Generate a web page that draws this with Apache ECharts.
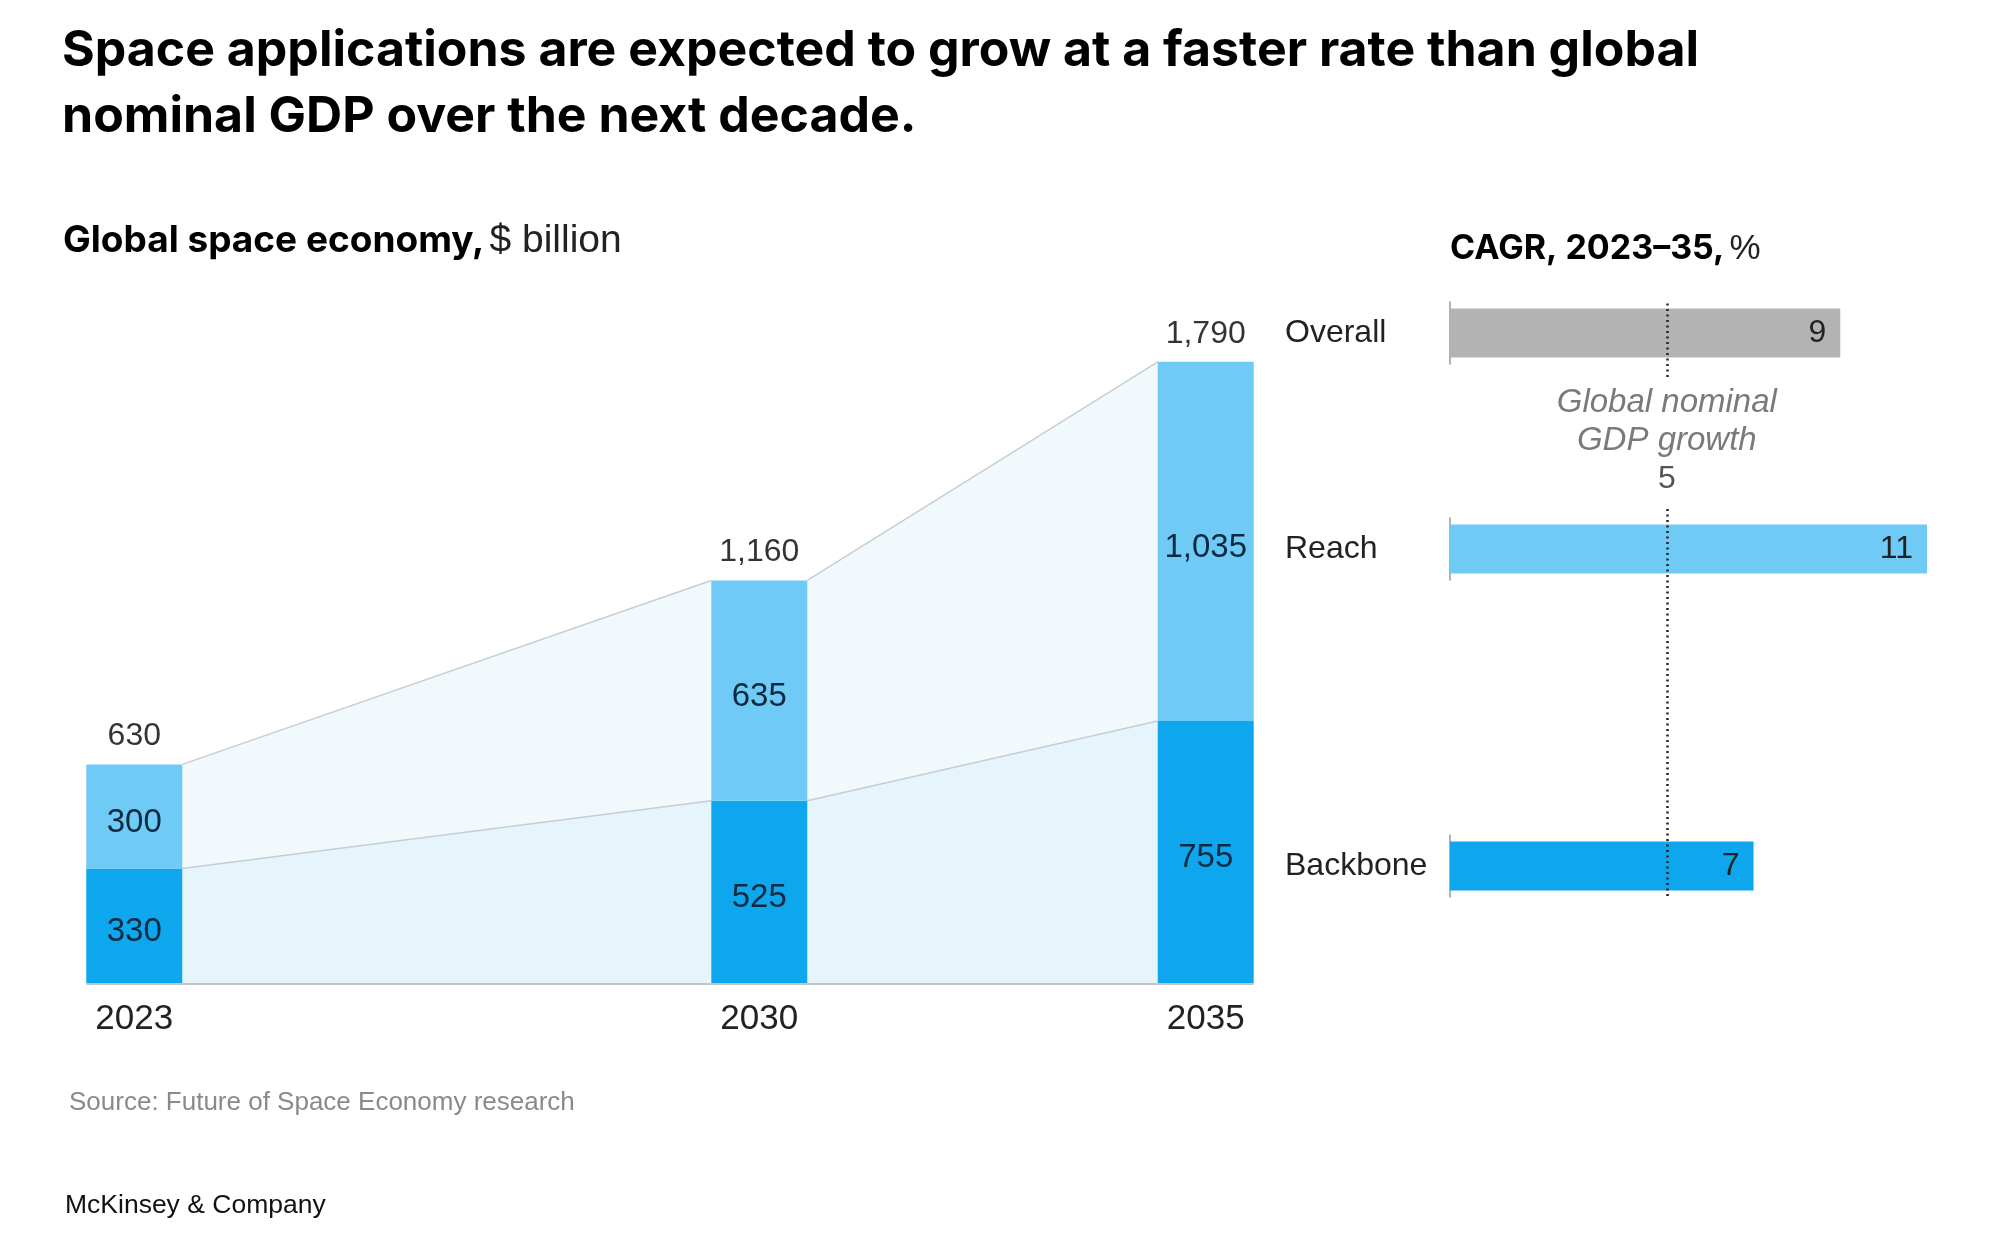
<!DOCTYPE html>
<html>
<head>
<meta charset="utf-8">
<script src="https://cdn.jsdelivr.net/npm/echarts@6/dist/echarts.min.js"></script>
<style>html,body{margin:0;background:#fff}#chart{width:2000px;height:1256px}</style>
</head>
<body>
<div id="chart"></div>
<script>
// data
const years = [2023, 2030, 2035];
const backbone = [330, 525, 755];
const reach = [300, 635, 1035];
const totals = [630, 1160, 1790];
const cagrLabels = ['Overall', 'Reach', 'Backbone'];
const cagrValues = [9, 11, 7];
const gdpGrowth = 5;

const FONT = '"Liberation Sans", Arial, sans-serif';
const HEAD = 'Inter, "Liberation Sans", sans-serif';
const DARK = '#0ea7ee', LIGHT = '#6fcaf5', GREY = '#b3b3b3';
const BAR_W = 96;
const fmt = v => v.toLocaleString('en-US');

const chart = echarts.init(document.getElementById('chart'));

// shaded bands + lines joining neighbouring bars
function renderBands(params, api) {
  const i = params.dataIndex;
  if (i >= years.length - 1) return;
  const hw = BAR_W / 2;
  const p0 = api.coord([years[i], 0]), p1 = api.coord([years[i + 1], 0]);
  const b0 = api.coord([years[i], backbone[i]]), b1 = api.coord([years[i + 1], backbone[i + 1]]);
  const t0 = api.coord([years[i], totals[i]]), t1 = api.coord([years[i + 1], totals[i + 1]]);
  const x0 = p0[0] + hw, x1 = p1[0] - hw;
  return {
    type: 'group',
    children: [
      { type: 'polygon', shape: { points: [[x0, p0[1]], [x0, b0[1]], [x1, b1[1]], [x1, p1[1]]] }, style: { fill: '#e6f5fc' } },
      { type: 'polygon', shape: { points: [[x0, b0[1]], [x0, t0[1]], [x1, t1[1]], [x1, b1[1]]] }, style: { fill: '#f1f9fd' } },
      { type: 'line', shape: { x1: x0, y1: b0[1], x2: x1, y2: b1[1] }, style: { stroke: '#c5ced3', lineWidth: 1.5 } },
      { type: 'line', shape: { x1: x0, y1: t0[1], x2: x1, y2: t1[1] }, style: { stroke: '#c5ced3', lineWidth: 1.5 } }
    ]
  };
}

// one stacked segment: value(0)=year, value(1)=lower, value(2)=upper, value(3)=label
function segment(color) {
  return function (params, api) {
    const lo = api.coord([api.value(0), api.value(1)]);
    const hi = api.coord([api.value(0), api.value(2)]);
    return {
      type: 'rect',
      shape: { x: lo[0] - BAR_W / 2, y: hi[1], width: BAR_W, height: lo[1] - hi[1] },
      style: { fill: color },
      textContent: { style: { text: fmt(api.value(3)), fill: '#0b2a40', fontSize: 33, fontFamily: FONT } },
      textConfig: { position: 'inside', offset: [0, 6] }
    };
  };
}

// baseline under the bars
function renderBase(params, api) {
  if (params.dataIndex !== 0) return;
  const hw = BAR_W / 2;
  const a = api.coord([years[0], 0]), b = api.coord([years[years.length - 1], 0]);
  return { type: 'line', shape: { x1: a[0] - hw, y1: a[1] + 1, x2: b[0] + hw, y2: b[1] + 1 }, style: { stroke: '#c4c4c4', lineWidth: 2 } };
}

const rowTops = [302, 518, 835];
const rowColors = [GREY, LIGHT, DARK];
const RIGHT_L = 1450, RIGHT_W = 477;

const grid = [{ left: 45, top: 289, width: 1250, height: 694 }];
rowTops.forEach(t => grid.push({ left: RIGHT_L, top: t, width: RIGHT_W, height: 62 }));
grid.push({ left: RIGHT_L, top: 302, width: RIGHT_W, height: 75 });
grid.push({ left: RIGHT_L, top: 507, width: RIGHT_W, height: 389 });

const xAxis = [{
  type: 'value', gridIndex: 0, min: 2022, max: 2036,
  axisLine: { show: false }, axisTick: { show: false }, splitLine: { show: false },
  axisLabel: { customValues: years, formatter: v => String(v), fontFamily: FONT, fontSize: 35, color: '#222', margin: 19 }
}];
const yAxis = [{ type: 'value', gridIndex: 0, min: 0, max: 2000, show: false }];
for (let g = 1; g <= 5; g++) {
  xAxis.push({ type: 'value', gridIndex: g, min: 0, max: 11, show: false });
}
cagrLabels.forEach((name, i) => {
  yAxis.push({
    type: 'category', gridIndex: i + 1, data: [name],
    axisLine: { show: true, lineStyle: { color: '#999', width: 1.5 } },
    axisTick: { show: false },
    axisLabel: { align: 'left', margin: 165, fontFamily: FONT, fontSize: 32, color: '#222' }
  });
});
yAxis.push({ type: 'value', gridIndex: 4, min: 0, max: 1, show: false });
yAxis.push({ type: 'value', gridIndex: 5, min: 0, max: 1, show: false });

const series = [
  { type: 'custom', xAxisIndex: 0, yAxisIndex: 0, z: 1, silent: true, renderItem: renderBands,
    data: years.map((y, i) => [y, totals[i]]) },
  { type: 'custom', name: 'Backbone', xAxisIndex: 0, yAxisIndex: 0, z: 2, silent: true,
    renderItem: segment(DARK), encode: { x: 0, y: [1, 2] },
    data: years.map((y, i) => [y, 0, backbone[i], backbone[i]]) },
  { type: 'custom', name: 'Reach', xAxisIndex: 0, yAxisIndex: 0, z: 2, silent: true,
    renderItem: segment(LIGHT), encode: { x: 0, y: [1, 2] },
    data: years.map((y, i) => [y, backbone[i], backbone[i] + reach[i], reach[i]]) },
  { type: 'scatter', xAxisIndex: 0, yAxisIndex: 0, symbolSize: 0, silent: true, z: 3,
    label: { show: true, position: 'top', distance: 12, fontFamily: FONT, fontSize: 32, color: '#000', formatter: p => fmt(p.value[1]) },
    data: years.map((y, i) => [y, totals[i]]) },
  { type: 'custom', xAxisIndex: 0, yAxisIndex: 0, z: 5, silent: true, renderItem: renderBase,
    data: years.map((y, i) => [y, 0]) }
];

cagrValues.forEach((v, i) => {
  series.push({
    type: 'bar', xAxisIndex: i + 1, yAxisIndex: i + 1, barWidth: 49,
    itemStyle: { color: rowColors[i] },
    label: { show: true, position: 'insideRight', distance: 14, fontFamily: FONT, fontSize: 32, color: '#222' },
    data: [v]
  });
});

const dotted = { color: '#222', width: 2.5, type: [2, 3.5] };
series.push({
  type: 'scatter', xAxisIndex: 4, yAxisIndex: 4, symbolSize: 0, silent: true, data: [[gdpGrowth, 0]],
  markLine: { symbol: 'none', silent: true, lineStyle: dotted, label: { show: false }, data: [{ xAxis: gdpGrowth }] }
});
series.push({
  type: 'scatter', xAxisIndex: 5, yAxisIndex: 5, symbolSize: 0, silent: true, data: [[gdpGrowth, 0]],
  markLine: {
    symbol: 'none', silent: true, lineStyle: dotted,
    label: {
      show: true, position: 'end', distance: 9,
      formatter: '{i|Global nominal}\n{i|GDP growth}\n{n|' + gdpGrowth + '}',
      rich: {
        i: { fontFamily: FONT, fontStyle: 'italic', fontSize: 33, lineHeight: 38, color: '#7a7a7a', align: 'center' },
        n: { fontFamily: FONT, fontSize: 32, lineHeight: 38, color: '#555', align: 'center' }
      }
    },
    data: [{ xAxis: gdpGrowth }]
  }
});

const option = {
  backgroundColor: '#fff',
  animation: false,
  title: [
    { text: 'Space applications are expected to grow at a faster rate than global\nnominal GDP over the next decade.',
      left: 62, top: 18, padding: 0,
      textStyle: { fontFamily: HEAD, fontWeight: 700, fontSize: 50, lineHeight: 66, color: '#000' } },
    { text: '{b|Global space economy,} {r|$ billion}', left: 63, top: 220, padding: 0,
      textStyle: { rich: {
        b: { fontFamily: HEAD, fontWeight: 700, fontSize: 37, lineHeight: 42, color: '#000' },
        r: { fontFamily: FONT, fontWeight: 400, fontSize: 39, lineHeight: 42, color: '#222' } } } },
    { text: '{b|CAGR, 2023–35,} {r|%}', left: 1450, top: 229, padding: 0,
      textStyle: { rich: {
        b: { fontFamily: HEAD, fontWeight: 700, fontSize: 34, lineHeight: 40, color: '#000' },
        r: { fontFamily: FONT, fontWeight: 400, fontSize: 35, lineHeight: 40, color: '#222' } } } },
    { text: 'Source: Future of Space Economy research', left: 69, top: 1087, padding: 0,
      textStyle: { fontFamily: FONT, fontWeight: 400, fontSize: 26, lineHeight: 32, color: '#8a8a8a' } },
    { text: 'McKinsey & Company', left: 65, top: 1190, padding: 0,
      textStyle: { fontFamily: FONT, fontWeight: 400, fontSize: 26.5, lineHeight: 32, color: '#111' } }
  ],
  grid: grid,
  xAxis: xAxis,
  yAxis: yAxis,
  series: series
};

chart.setOption(option);
</script>
</body>
</html>
